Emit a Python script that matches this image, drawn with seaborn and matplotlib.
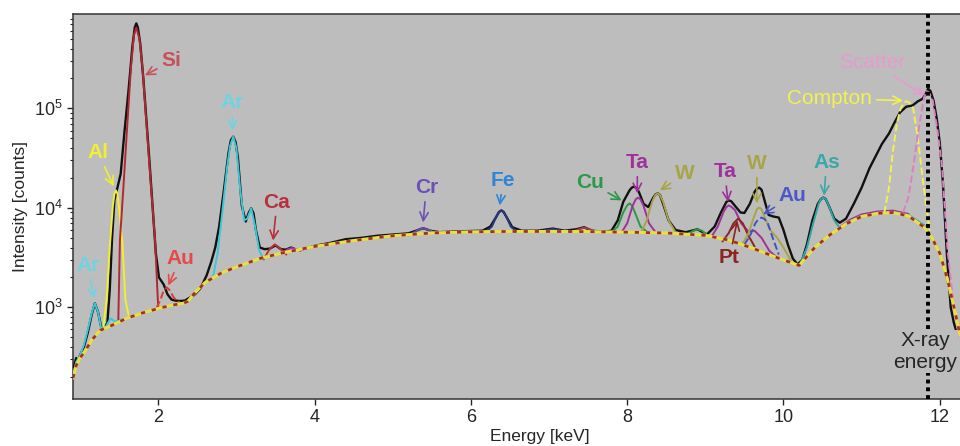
import matplotlib
matplotlib.use('Agg')
import matplotlib.pyplot as plt
import seaborn as sns

# measured spectrum (black)
spec_e = [0.92, 0.95, 0.97, 1.00, 1.05, 1.10, 1.15, 1.19, 1.23, 1.27, 1.31, 1.35, 1.38, 1.41, 1.44, 1.47,
          1.52, 1.57, 1.62, 1.67, 1.70, 1.72, 1.74, 1.77, 1.81, 1.85, 1.89, 1.93, 1.97, 2.01, 2.07, 2.12, 2.17, 2.22,
          2.28, 2.34, 2.40, 2.46, 2.54, 2.62, 2.68, 2.73, 2.78, 2.84, 2.90, 2.93, 2.96, 2.99, 3.02, 3.07, 3.12, 3.16, 3.19,
          3.22, 3.25, 3.30, 3.36, 3.43, 3.50, 3.57, 3.63, 3.70, 3.77, 3.85, 4.00, 4.20, 4.40, 4.60, 4.80, 5.00,
          5.20, 5.30, 5.36, 5.39, 5.42, 5.48, 5.60, 5.80, 6.00, 6.15, 6.25, 6.32, 6.36, 6.39, 6.42, 6.46, 6.53, 6.65, 6.85, 7.05,
          7.20, 7.35, 7.45, 7.55, 7.70, 7.80, 7.88, 7.95, 8.03, 8.06, 8.09, 8.12, 8.15, 8.21, 8.27, 8.33, 8.36, 8.39, 8.42, 8.46,
          8.53, 8.62, 8.75, 8.90, 9.02, 9.12, 9.20, 9.27, 9.30, 9.33, 9.38, 9.45, 9.50, 9.57, 9.63, 9.66, 9.69, 9.72, 9.75,
          9.81, 9.87, 9.94, 10.00, 10.06, 10.12, 10.18, 10.24, 10.30, 10.37, 10.44, 10.48, 10.51, 10.54, 10.58, 10.65,
          10.72, 10.80, 10.90, 11.00, 11.10, 11.17, 11.26, 11.35, 11.42, 11.49, 11.57, 11.65, 11.72, 11.78,
          11.82, 11.85, 11.88, 11.92, 11.96, 12.00, 12.04, 12.09, 12.14, 12.18, 12.22]
spec_c = [250, 310, 285, 330, 400, 560, 850, 1100, 900, 640, 620, 700, 1500, 5000, 12000, 15000,
          22000, 60000, 150000, 420000, 650000, 716000, 650000, 450000, 200000, 75000, 28000, 10000, 3500, 2000, 1700, 1350, 1200, 1170,
          1160, 1170, 1250, 1330, 1550, 2100, 2900, 4000, 6500, 15000, 36000, 48000, 52000, 46000, 32000, 10500, 7300, 9000, 9900,
          8800, 6000, 4000, 3850, 3900, 4200, 3850, 3800, 4000, 3800, 3850, 4150, 4450, 4850, 5000, 5250, 5400,
          5550, 5900, 6150, 6220, 6150, 5900, 5700, 5800, 5850, 5900, 6500, 8000, 9100, 9440, 9100, 8000, 6400, 5900, 5900, 6200,
          5900, 6100, 6400, 5900, 5750, 5900, 7500, 11500, 15000, 16000, 16400, 15800, 14500, 11000, 10200, 12500, 13600, 14000, 13500, 11000,
          7500, 6000, 5700, 6100, 5400, 6500, 9000, 11500, 11900, 11700, 10500, 9000, 8900, 11000, 14500, 15600, 16000, 15200, 12500,
          8500, 8200, 8000, 6000, 4200, 3100, 2700, 3000, 4300, 7500, 11000, 12300, 12700, 12300, 10500, 7800,
          7100, 7800, 11000, 16000, 25000, 32000, 44000, 56000, 72000, 91000, 104000, 107000, 118000, 125000,
          140000, 158000, 150000, 120000, 80000, 45000, 18000, 3500, 1000, 700, 550]

# fitted background
bg_e = [0.91, 0.95, 1.00, 1.07, 1.15, 1.26, 1.39, 1.60, 1.80, 2.03, 2.20, 2.32, 2.38, 2.45, 2.60, 2.80,
        3.00, 3.30, 3.60, 4.00, 4.50, 5.00, 5.50, 6.00, 6.50, 7.00, 7.50, 8.00, 8.50, 9.00, 9.30, 9.60,
        9.90, 10.20, 10.40, 10.60, 10.80, 11.00, 11.20, 11.40, 11.60, 11.80, 11.90, 12.00, 12.10, 12.20, 12.26]
bg_c = [195, 260, 310, 370, 470, 590, 650, 780, 880, 990, 1060, 1100, 1150, 1350, 1780, 2200,
        2550, 3100, 3550, 4100, 4700, 5250, 5600, 5750, 5800, 5800, 5780, 5700, 5600, 5300, 4750, 3950,
        3200, 2640, 4000, 5400, 6900, 8200, 8800, 9000, 8300, 6400, 5000, 3500, 1900, 870, 520]

# fitted components (background + peak)
ar_esc_e = [0.91, 0.95, 1.00, 1.05, 1.10, 1.15, 1.19, 1.23, 1.27, 1.33, 1.39, 1.45, 1.52]
ar_esc_c = [195, 280, 330, 420, 600, 880, 1100, 900, 620, 640, 775, 720, 760]
al_e = [1.30, 1.34, 1.38, 1.42, 1.44, 1.46, 1.48, 1.50, 1.54, 1.58, 1.62]
al_c = [640, 1200, 4000, 10500, 13800, 15000, 13800, 10000, 4700, 1200, 840]
si_e = [1.49, 1.51, 1.55, 1.60, 1.65, 1.69, 1.72, 1.76, 1.80, 1.85, 1.90, 1.96, 2.00]
si_c = [760, 4700, 14000, 60000, 250000, 550000, 650000, 500000, 250000, 70000, 20000, 4700, 1000]
au_m_e = [1.98, 2.03, 2.07, 2.11, 2.15, 2.20, 2.28]
au_m_c = [990, 1200, 1480, 1590, 1480, 1250, 1110]
ar_e = [2.70, 2.76, 2.82, 2.88, 2.92, 2.96, 3.00, 3.05, 3.10, 3.14, 3.19, 3.24, 3.29, 3.35]
ar_c = [2000, 3500, 9000, 25000, 42000, 52000, 40000, 15000, 7500, 7800, 9900, 6500, 3800, 3000]
ca_e = [3.35, 3.42, 3.49, 3.56, 3.64]
ca_c = [3050, 3800, 4300, 3900, 3400]
ca2_e = [3.60, 3.66, 3.71, 3.76, 3.82]
ca2_c = [3550, 3850, 3950, 3850, 3700]
cr_e = [5.20, 5.28, 5.34, 5.39, 5.45, 5.52, 5.60]
cr_c = [5300, 5700, 6100, 6220, 6050, 5750, 5650]
fe_e = [6.20, 6.27, 6.32, 6.36, 6.39, 6.42, 6.46, 6.51, 6.58]
fe_c = [5780, 6500, 8000, 9100, 9400, 9100, 8000, 6500, 5820]
fe_b_e = [6.90, 6.98, 7.05, 7.12, 7.20]
fe_b_c = [5800, 6000, 6150, 6000, 5800]
ni_e = [7.30, 7.38, 7.45, 7.52, 7.60]
ni_c = [5790, 6100, 6350, 6100, 5780]
cu_e = [7.80, 7.88, 7.95, 8.00, 8.03, 8.06, 8.10, 8.17, 8.26]
cu_c = [5700, 6500, 9000, 10600, 11100, 10600, 9000, 6500, 5700]
cu_b_e = [8.78, 8.85, 8.90, 8.96, 9.02]
cu_b_c = [5500, 5900, 6100, 5900, 5350]
ta_e = [7.93, 8.00, 8.07, 8.11, 8.14, 8.17, 8.21, 8.28, 8.36]
ta_c = [5700, 7000, 10500, 12200, 12700, 12200, 10500, 7000, 5750]
w_e = [8.18, 8.25, 8.32, 8.36, 8.39, 8.42, 8.46, 8.53, 8.62]
w_c = [5700, 7500, 11500, 13500, 14000, 13500, 11500, 7500, 5680]
ta_b_e = [9.08, 9.16, 9.23, 9.27, 9.30, 9.33, 9.38, 9.46, 9.55, 9.63, 9.72, 9.82, 9.92]
ta_b_c = [5150, 6500, 9000, 10200, 10600, 10300, 9500, 7000, 5800, 5900, 5000, 3700, 3150]
pt_e = [9.22, 9.30, 9.36, 9.42, 9.48, 9.55, 9.63]
pt_c = [4600, 5600, 7000, 7800, 7000, 5300, 4100]
w_b_e = [9.48, 9.55, 9.62, 9.66, 9.69, 9.72, 9.76, 9.83, 9.92, 10.00, 10.10]
w_b_c = [4400, 5500, 8000, 9700, 10100, 9700, 8000, 6000, 5000, 4000, 2900]
au_l_e = [9.50, 9.57, 9.64, 9.68, 9.72, 9.76, 9.80, 9.87, 9.94]
au_l_c = [4300, 5200, 7000, 7700, 8000, 7700, 7000, 4800, 3400]
as_e = [10.22, 10.30, 10.38, 10.45, 10.48, 10.51, 10.54, 10.58, 10.65, 10.72, 10.85, 11.0, 11.2, 11.4,
        11.6, 11.8, 12.0, 12.2]
as_c = [2800, 4000, 7000, 11000, 12300, 12700, 12300, 10500, 7500, 6300, 7400, 8300, 8900, 9100,
        8500, 6700, 3600, 880]
ta_tail_e = [10.72, 10.85, 11.0, 11.2, 11.4, 11.6]
ta_tail_c = [6400, 7600, 8600, 9200, 9400, 8700]
compton_e = [11.29, 11.35, 11.40, 11.45, 11.50, 11.54, 11.58, 11.62, 11.66, 11.72, 11.78, 11.87]
compton_c = [8900, 16000, 37000, 70000, 100000, 115000, 118000, 112000, 100000, 50000, 20000, 5900]
scatter_e = [11.53, 11.60, 11.66, 11.72, 11.77, 11.80, 11.83, 11.87, 11.91, 11.97, 12.03, 12.10, 12.19, 12.25]
scatter_c = [9000, 13000, 25600, 55000, 95000, 130000, 150000, 140000, 120000, 60000, 25600, 3700, 870, 500]

xray_energy = 11.85

# (label, text position, arrow tip, colour, bold)
labels = [
    ('Ar', (1.10, 2650), (1.18, 1230), '#6fd3e3', True),
    ('Al', (1.23, 36000), (1.43, 16500), '#f2ee30', True),
    ('Si', (2.17, 300000), (1.83, 215000), '#c8505a', True),
    ('Au', (2.28, 3100), (2.13, 1660), '#e84848', True),
    ('Ar', (2.95, 114000), (2.95, 60000), '#6fd3e3', True),
    ('Ca', (3.52, 11400), (3.47, 4700), '#b8303c', True),
    ('Cr', (5.43, 16000), (5.39, 7150), '#6a50b8', True),
    ('Fe', (6.41, 18900), (6.37, 10600), '#2f86d6', True),
    ('Cu', (7.52, 18000), (7.93, 11900), '#2a9a48', True),
    ('Ta', (8.13, 28600), (8.13, 14000), '#a0309c', True),
    ('W', (8.74, 22000), (8.42, 15000), '#a8a448', True),
    ('Ta', (9.25, 23000), (9.29, 11500), '#a0309c', True),
    ('W', (9.66, 28000), (9.66, 11100), '#a8a448', True),
    ('Au', (10.12, 13300), (9.74, 8600), '#4a58c8', True),
    ('Pt', (9.31, 3150), (9.41, 7500), '#8c2424', True),
    ('As', (10.55, 28600), (10.52, 13300), '#3aa8a8', True),
    ('Compton', (10.59, 126000), (11.53, 120000), '#f4f050', False),
    ('Scatter', (11.14, 290000), (11.80, 135000), '#e89ad0', False),
]

sns.set_style('ticks')
plt.rcParams['font.family'] = ['Liberation Sans', 'DejaVu Sans']
plt.rcParams['mathtext.fontset'] = 'custom'
plt.rcParams['mathtext.rm'] = 'Liberation Sans'
plt.rcParams['mathtext.default'] = 'regular'

axbg = '#bdbdbd'
fig = plt.figure(figsize=(9.6, 4.46), dpi=100)
ax = fig.add_axes([73/960, 1 - 399/446, 934/960, 385/446])
ax.set_facecolor(axbg)

sns.lineplot(x=spec_e, y=spec_c, ax=ax, color='#111111', lw=1.7, zorder=3)

comps = [
    (ar_esc_e, ar_esc_c, '#38c8d8', '-'),
    (al_e, al_c, '#f2ee30', '-'),
    (si_e, si_c, '#b02830', '-'),
    (au_m_e, au_m_c, '#e03838', '--'),
    (ar_e, ar_c, '#38c8d8', '-'),
    (ca_e, ca_c, '#b8303c', '-'),
    (ca2_e, ca2_c, '#b030b0', '-'),
    (cr_e, cr_c, '#6650b0', '-'),
    (fe_e, fe_c, '#283888', '-'),
    (fe_b_e, fe_b_c, '#283888', '-'),
    (ni_e, ni_c, '#a04040', '-'),
    (cu_e, cu_c, '#2a9a48', '-'),
    (cu_b_e, cu_b_c, '#2a9a48', '-'),
    (ta_e, ta_c, '#a0309c', '-'),
    (w_e, w_c, '#a8a448', '-'),
    (ta_b_e, ta_b_c, '#a0309c', '-'),
    (pt_e, pt_c, '#8c2424', '-'),
    (w_b_e, w_b_c, '#a8a448', '-'),
    (au_l_e, au_l_c, '#4050c8', '--'),
    (ta_tail_e, ta_tail_c, '#a0309c', '-'),
    (as_e, as_c, '#30a4a4', '-'),
    (compton_e, compton_c, '#f4f050', '--'),
    (scatter_e, scatter_c, '#e07ec4', '--'),
]
for xe, yc, col, ls in comps:
    sns.lineplot(x=xe, y=yc, ax=ax, color=col, lw=1.4, linestyle=ls, zorder=4)

sns.lineplot(x=bg_e, y=bg_c, ax=ax, color='#e8e040', lw=2.2, zorder=5)
sns.lineplot(x=bg_e, y=bg_c, ax=ax, color='#a03030', lw=2.0, linestyle=(0, (1.5, 2.5)), zorder=6)

ax.axvline(xray_energy, color='black', lw=2.8, linestyle=(0, (1, 1)), zorder=7)
ax.text(12.22, 360, 'X-ray\nenergy', fontsize=15, ha='right', va='center', multialignment='center',
        zorder=8, bbox=dict(facecolor=axbg, edgecolor='none', pad=1))

for txt, pos, tip, col, bold in labels:
    ax.annotate(txt, xy=tip, xytext=pos, ha='center', va='center', color=col,
                fontsize=15, fontweight='bold' if bold else 'normal',
                arrowprops=dict(arrowstyle='->', color=col, lw=1.2, shrinkA=1, shrinkB=0),
                zorder=9)

ax.set_yscale('log')
ax.set_xlim(0.91, 12.86)
ax.set_ylim(120, 8.9e5)
ax.set_xticks([2, 4, 6, 8, 10, 12])
ax.tick_params(axis='both', labelsize=13, direction='out', length=4, width=1)
ax.tick_params(axis='y', which='minor', length=2.5, width=0.8)
ax.set_xlabel('Energy [keV]', fontsize=12.5, labelpad=2)
ax.set_ylabel('Intensity [counts]', fontsize=12.5, labelpad=4)
for s in ax.spines.values():
    s.set_color('#333333')
    s.set_linewidth(1.1)

fig.savefig('out.png', dpi=100)
